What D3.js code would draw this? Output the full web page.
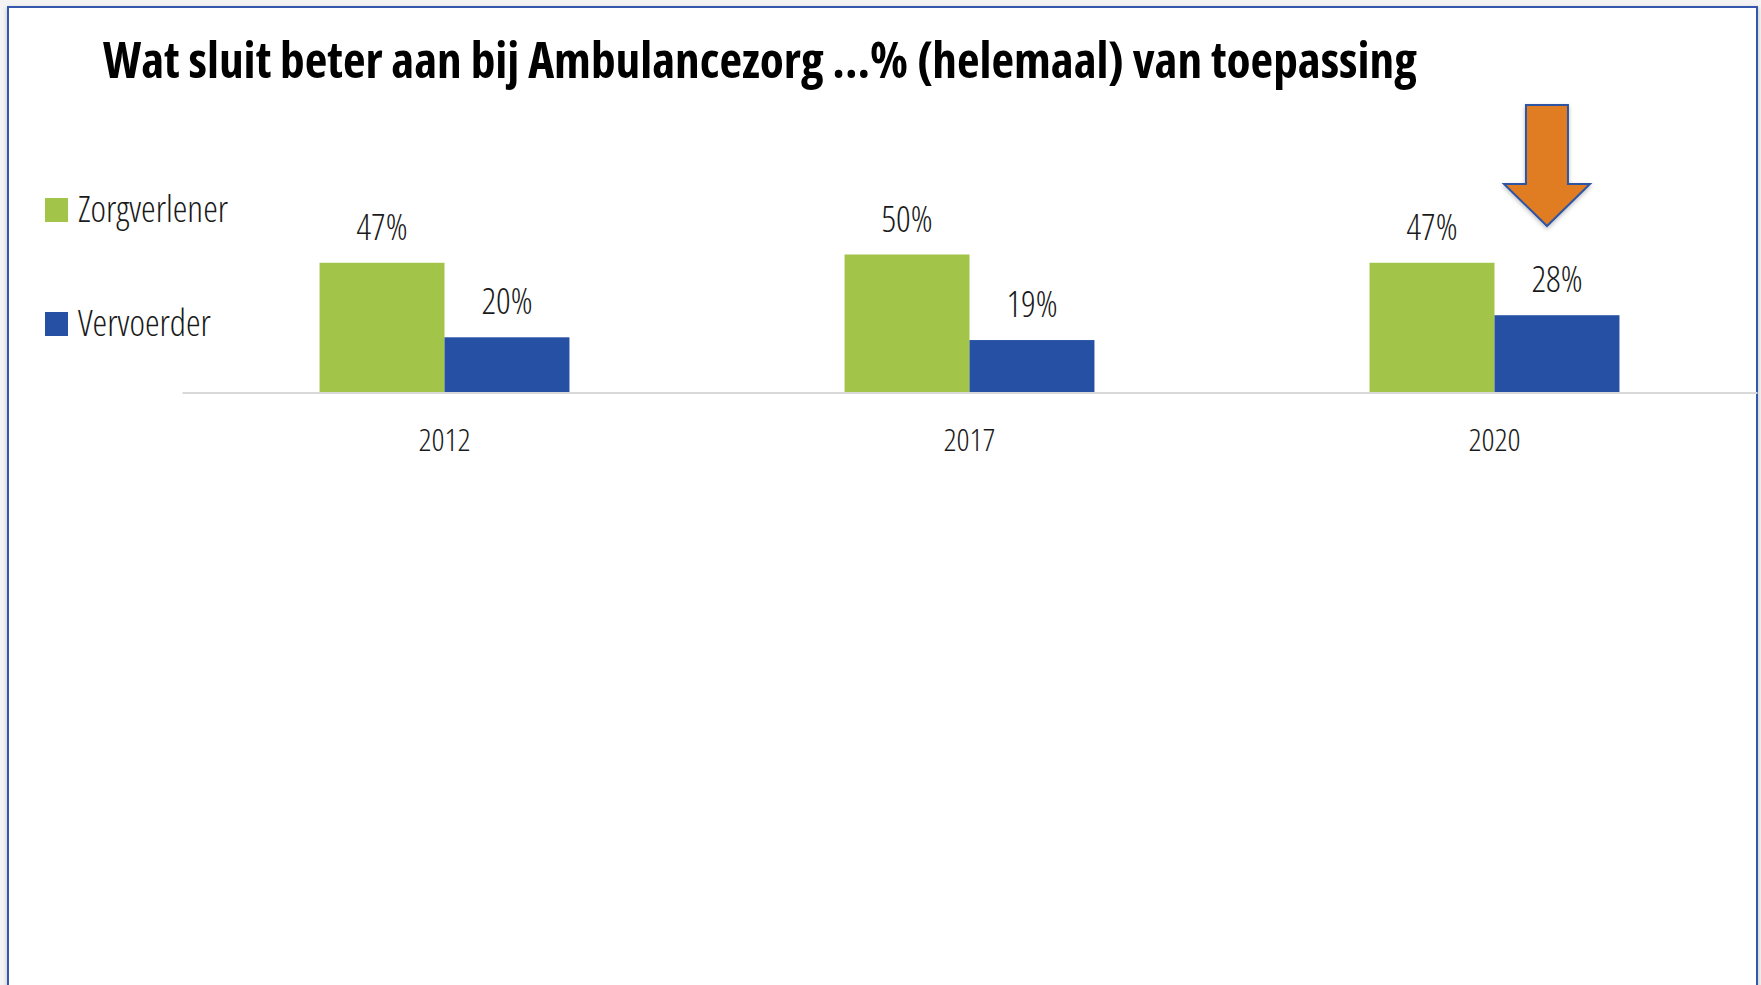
<!DOCTYPE html>
<html>
<head>
<meta charset="utf-8">
<script src="https://cdn.jsdelivr.net/npm/d3@7"></script>
<style>
  html, body { margin: 0; padding: 0; background: #ffffff; }
  svg { display: block; }
  .cond { font-family: "Open Sans", "Liberation Sans Narrow", sans-serif; font-stretch: 75%; }
</style>
</head>
<body>
<div id="chart"></div>
<script>
// data
const years = ["2012", "2017", "2020"];
const seriesNames = ["Zorgverlener", "Vervoerder"];
const zorgverlener = [0.47, 0.50, 0.47];
const vervoerder = [0.20, 0.19, 0.28];
const colors = ["#a2c449", "#2550a3"];
const title = "Wat sluit beter aan bij Ambulancezorg ...% (helemaal) van toepassing";

const W = 1761, H = 985;
const svg = d3.select("#chart").append("svg")
    .attr("width", W)
    .attr("height", H);

// frame with a soft shadow, like the slide it was cut from
const defs = svg.append("defs");
const shadow = defs.append("filter").attr("id", "shadow")
    .attr("x", "-5%").attr("y", "-5%").attr("width", "110%").attr("height", "110%");
shadow.append("feDropShadow")
    .attr("dx", 0).attr("dy", 2).attr("stdDeviation", 2)
    .attr("flood-color", "#000").attr("flood-opacity", 0.25);

svg.append("rect").attr("x", 0).attr("y", 0).attr("width", W).attr("height", H).attr("fill", "#f4f4f4");
svg.append("rect")
    .attr("x", 8).attr("y", 7)
    .attr("width", 1749).attr("height", H)
    .attr("fill", "#fff")
    .attr("stroke", "#3558ad")
    .attr("stroke-width", 2)
    .attr("filter", "url(#shadow)");

// title
svg.append("text")
    .attr("class", "cond")
    .attr("x", 103).attr("y", 78)
    .attr("font-size", 49.3)
    .attr("font-weight", 700)
    .attr("fill", "#000")
    .text(title);

// scales
const axisY = 392.5;
const x0 = d3.scaleBand()
    .domain(years)
    .range([182, 1757])
    .paddingInner(0.524)
    .paddingOuter(0.262);
const x1 = d3.scaleBand()
    .domain(seriesNames)
    .range([0, x0.bandwidth()]);
const y = d3.scaleLinear()
    .domain([0, 1])
    .range([axisY, axisY - 276]);
const color = d3.scaleOrdinal().domain(seriesNames).range(colors);

const rows = years.map((yr, i) => ({
    year: yr,
    values: [
        { key: seriesNames[0], value: zorgverlener[i] },
        { key: seriesNames[1], value: vervoerder[i] }
    ]
}));

// bars
const groups = svg.selectAll(".group")
    .data(rows)
    .enter().append("g")
    .attr("class", "group")
    .attr("transform", d => `translate(${x0(d.year)},0)`);

groups.selectAll("rect")
    .data(d => d.values)
    .enter().append("rect")
    .attr("x", d => x1(d.key))
    .attr("y", d => y(d.value))
    .attr("width", x1.bandwidth())
    .attr("height", d => axisY - y(d.value))
    .attr("fill", d => color(d.key));

groups.selectAll(".val")
    .data(d => d.values)
    .enter().append("text")
    .attr("class", "val cond")
    .attr("x", d => x1(d.key) + x1.bandwidth() / 2)
    .attr("y", d => y(d.value) - 23)
    .attr("text-anchor", "middle")
    .attr("font-size", 36)
    .attr("font-weight", 300)
    .attr("fill", "#1a1a1a")
    .text(d => d3.format(".0%")(d.value));

// category axis
const xAxis = svg.append("g")
    .attr("transform", `translate(0,${axisY})`)
    .call(d3.axisBottom(x0).tickSize(0).tickSizeOuter(0).tickPadding(0));
xAxis.select(".domain").attr("stroke", "#d9d9d9").attr("stroke-width", 2);
xAxis.selectAll(".tick text")
    .attr("class", "cond")
    .attr("dy", null)
    .attr("y", 58)
    .attr("font-size", 32)
    .attr("font-weight", 300)
    .attr("fill", "#1a1a1a");

// legend
const legend = svg.selectAll(".legend")
    .data(seriesNames)
    .enter().append("g")
    .attr("class", "legend")
    .attr("transform", (d, i) => `translate(45,${198 + i * 114})`);
legend.append("rect")
    .attr("width", 23).attr("height", 24)
    .attr("fill", d => color(d));
legend.append("text")
    .attr("class", "cond")
    .attr("x", 33).attr("y", 24)
    .attr("font-size", 37)
    .attr("font-weight", 300)
    .attr("fill", "#1a1a1a")
    .text(d => d);

// orange down arrow over the 2020 Vervoerder bar
const ax = x0("2020") + x1("Vervoerder") + x1.bandwidth() / 2 - 10;
const arrow = [
    [ax - 21, 105], [ax + 21, 105], [ax + 21, 184], [ax + 43, 184],
    [ax, 226], [ax - 43, 184], [ax - 21, 184]
];
svg.append("path")
    .attr("d", d3.line()(arrow) + "Z")
    .attr("fill", "#e07b22")
    .attr("stroke", "#2f55a4")
    .attr("stroke-width", 2)
    .attr("stroke-linejoin", "miter")
    .attr("filter", "url(#shadow)");
</script>
</body>
</html>
